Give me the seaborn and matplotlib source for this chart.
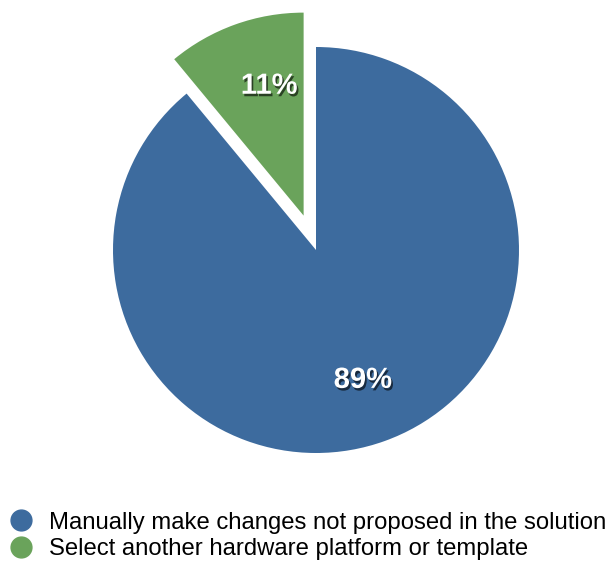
import matplotlib
matplotlib.use('Agg')
import matplotlib.pyplot as plt
import matplotlib.patheffects as pe
from matplotlib.lines import Line2D
import seaborn as sns

labels = ['Manually make changes not proposed in the solution',
          'Select another hardware platform or template']
shares = [89, 11]
colors = ['#3d6b9e', '#6aa35b']

sns.set_style('white')
plt.rcParams['font.family'] = ['Liberation Sans', 'DejaVu Sans']
plt.rcParams['text.color'] = 'black'

fig = plt.figure(figsize=(6.09, 5.64), dpi=100)
ax = fig.add_axes([66 / 609, 64 / 564, 500 / 609, 500 / 564])

wedges, texts, autotexts = ax.pie(
    shares, colors=colors, startangle=90, counterclock=False,
    explode=[0, 0.18], autopct='%d%%', pctdistance=0.68,
    wedgeprops={'linewidth': 0})

for t in autotexts:
    t.set_color('white')
    t.set_fontsize(21)
    t.set_fontweight('bold')
    t.set_path_effects([pe.SimplePatchShadow(offset=(1.2, -1.8), alpha=0.6, shadow_rgbFace='black'),
                        pe.Normal()])

# nudge the small slice label a little toward the slice's right edge
x, y = autotexts[1].get_position()
autotexts[1].set_position((x + 0.06, y))

lim = 250 / 203
ax.set_xlim(-lim, lim)
ax.set_ylim(-lim, lim)
ax.set_aspect('equal')
ax.axis('off')

handles = [Line2D([], [], marker='o', linestyle='none', markersize=15,
                  markerfacecolor=c, markeredgecolor=c) for c in colors]
fig.legend(handles, labels, loc='lower left', bbox_to_anchor=(-0.002, -0.014),
           frameon=False, fontsize=17.2, handletextpad=0.72, labelspacing=0.18,
           borderaxespad=0.3, handlelength=0.9, borderpad=0.2)

fig.savefig('out.png', dpi=100)
